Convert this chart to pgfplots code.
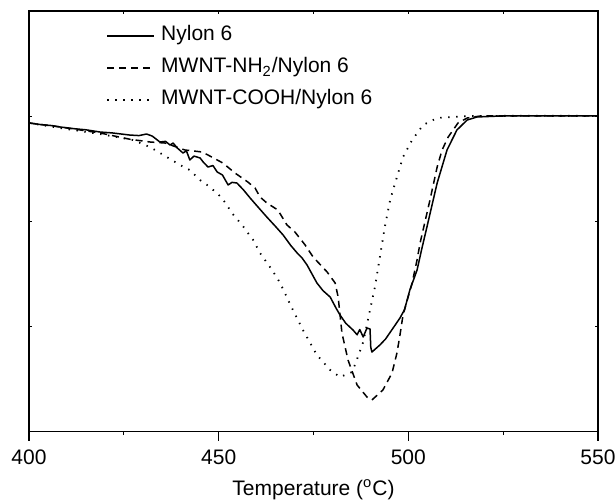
\documentclass[border=0pt]{standalone}
\usepackage{fontspec}
\setmainfont{Liberation Sans}
\usepackage{pgfplots}
\pgfplotsset{compat=1.18}

% DTG-type curves (arbitrary y units)
\pgfplotstableread{
T y
400.0 2.935
403.0 2.920
406.0 2.910
408.2 2.897
412.0 2.880
415.0 2.870
418.7 2.849
422.0 2.840
426.6 2.820
429.0 2.815
431.0 2.830
432.5 2.810
434.5 2.754
436.0 2.760
437.2 2.725
438.0 2.744
439.0 2.700
440.6 2.649
441.5 2.670
442.4 2.583
443.5 2.620
445.1 2.602
446.0 2.560
447.2 2.516
448.5 2.530
449.6 2.469
451.0 2.440
452.5 2.345
453.5 2.370
454.8 2.364
456.5 2.300
458.3 2.221
460.5 2.130
462.7 2.040
465.0 1.950
467.0 1.869
469.0 1.770
470.7 1.698
472.0 1.650
473.3 1.584
475.9 1.413
477.5 1.340
479.4 1.279
481.0 1.170
482.0 1.108
483.5 1.030
485.4 0.966
486.5 0.920
487.2 0.970
488.1 0.899
489.1 0.985
489.9 0.975
490.1 0.800
490.4 0.756
492.5 0.823
494.0 0.880
496.0 0.985
497.8 1.080
499.0 1.160
500.4 1.346
502.3 1.536
503.6 1.746
504.9 1.945
507.6 2.364
510.2 2.678
512.8 2.868
515.5 2.963
518.1 2.992
524.2 3.001
530.0 3.003
540.0 3.003
550.0 3.002
}\nylon

\pgfplotstableread{
T y
400.0 2.935
408.2 2.897
418.7 2.840
426.6 2.780
431.9 2.754
435.9 2.744
441.1 2.678
445.6 2.659
447.2 2.630
451.1 2.554
454.3 2.459
456.2 2.411
457.7 2.373
459.6 2.316
460.9 2.231
462.7 2.174
465.6 2.107
468.0 1.965
470.1 1.898
472.8 1.774
474.9 1.660
478.6 1.517
480.7 1.413
481.5 1.279
482.5 0.937
484.1 0.680
486.5 0.442
489.1 0.328
490.4 0.300
493.3 0.395
495.7 0.556
497.0 0.747
497.8 0.918
498.6 1.108
501.0 1.413
502.3 1.632
503.1 1.793
505.7 2.202
507.6 2.516
508.9 2.678
510.5 2.801
513.1 2.935
515.5 2.982
518.9 3.001
530.0 3.003
550.0 3.002
}\amine

\pgfplotstableread{
T y
400.0 2.935
408.2 2.887
418.7 2.830
427.4 2.773
431.9 2.706
437.2 2.592
440.3 2.526
442.4 2.487
445.1 2.392
447.7 2.326
450.9 2.221
453.0 2.107
454.3 2.040
456.2 1.964
457.5 1.898
459.1 1.822
460.9 1.698
462.2 1.632
464.1 1.536
466.2 1.413
469.3 1.175
472.2 0.966
475.9 0.728
479.4 0.585
482.0 0.518
485.2 0.566
486.7 0.709
488.1 0.851
489.9 1.156
491.2 1.375
492.5 1.660
493.8 1.945
495.2 2.202
497.0 2.421
498.6 2.611
501.0 2.773
503.9 2.916
507.6 2.982
511.8 2.992
516.3 3.001
530.0 3.003
550.0 3.002
}\carboxyl

\begin{document}
\fontsize{10.5}{12.6}\selectfont
\begin{tikzpicture}
\path[use as bounding box] (-14.5pt,-34.25pt) rectangle (293.5pt,215.75pt);

% small inward ticks on top, left and right
\begin{axis}[
    at={(0,0)}, anchor=south west,
    width=284.5pt, height=210.25pt, scale only axis,
    xmin=400, xmax=550, ymin=0, ymax=4,
    xtick={400,450,500,550}, minor xtick={425,475,525},
    ytick={1,2,3},
    xtick pos=top, ytick pos=both,
    tick align=inside,
    major tick length=1.5pt, minor tick length=1.5pt,
    xticklabel=\empty, yticklabel=\empty,
    axis line style={line width=0.6pt},
    tick style={line width=0.6pt, black},
]
\end{axis}

\begin{axis}[
    at={(0,0)}, anchor=south west,
    width=284.5pt, height=210.25pt, scale only axis,
    xmin=400, xmax=550, ymin=0, ymax=4,
    xtick={400,450,500,550}, minor xtick={425,475,525},
    xtick pos=bottom, xtick align=outside,
    major tick length=4.5pt, minor tick length=1.8pt,
    ytick=\empty,
    axis line style={line width=0.6pt},
    tick style={line width=0.6pt, black},
    /pgf/number format/assume math mode=true,
    xticklabel style={yshift=-0.75pt},
    xlabel={Temperature (\textsuperscript{o}C)},
    xlabel style={at={(axis description cs:0.5,0)}, anchor=base, yshift=-31.75pt},
    legend cell align=left,
    legend image code/.code={\draw[#1] (0pt,0pt) -- (23.5pt,0pt);},
    legend style={draw=none, fill=none,
        at={(axis description cs:0,1)}, anchor=north west,
        xshift=38.5pt, yshift=-6.75pt,
        inner sep=0pt, row sep=5pt, column sep=3pt,
        nodes={inner sep=0pt, text height=8pt, text depth=3pt},
        font=\fontsize{10.5}{12.6}\selectfont},
]
\addplot[black, line width=0.75pt, line join=round] table[x=T, y=y] {\nylon};
\addlegendentry{Nylon 6}
\addplot[black, line width=0.75pt, dash pattern=on 3.5pt off 2.5pt] table[x=T, y=y] {\amine};
\addlegendentry{MWNT-NH\textsubscript{2}/Nylon 6}
\addplot[black, line width=0.9pt, dash pattern=on 0.7pt off 3.3pt] table[x=T, y=y] {\carboxyl};
\addlegendentry{MWNT-COOH/Nylon 6}
\end{axis}
\end{tikzpicture}
\end{document}
